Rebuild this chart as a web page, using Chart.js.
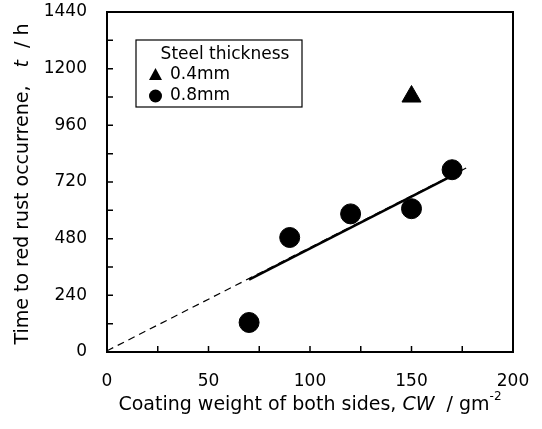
<!DOCTYPE html>
<html>
<head>
<meta charset="utf-8">
<script src="https://cdn.jsdelivr.net/npm/chart.js@4/dist/chart.umd.min.js"></script>
<style>
  html, body { margin: 0; padding: 0; background: #fff; }
  #wrap { width: 542px; height: 429px; }
</style>
</head>
<body>
<div id="wrap"><canvas id="rustChart" width="542" height="429"></canvas></div>
<script>
// data
const cw08 = [70, 90, 120, 150, 170];
const time08 = [125, 485, 585, 607, 772];
const cw04 = [150];
const time04 = [1082];
const fitDashX = [0, 179];
const fitDashY = [5, 788];
const fitSolidX = [70, 168];
const fitSolidY = [307, 737];
const xTickLabels = [0, 50, 100, 150, 200];
const yTickLabels = [0, 240, 480, 720, 960, 1200, 1440];
const legendTitle = "Steel thickness";
const legendNames = ["0.4mm", "0.8mm"];

const FONT = "'DejaVu Sans', Verdana, sans-serif";

function toPoints(xs, ys) {
    return xs.map((x, i) => ({ x: x, y: ys[i] }));
}

// mixed-style text helper: parts = [[text, style, sizeScale, yShift]]
function drawParts(ctx, parts, x, y, size) {
    let total = 0;
    parts.forEach((p) => {
        ctx.font = (p[1] || "") + " " + Math.round(size * (p[2] || 1)) + "px " + FONT;
        total += ctx.measureText(p[0]).width;
    });
    let cx = x - total / 2;
    parts.forEach((p) => {
        ctx.font = (p[1] || "") + " " + Math.round(size * (p[2] || 1)) + "px " + FONT;
        ctx.fillText(p[0], cx, y + (p[3] || 0));
        cx += ctx.measureText(p[0]).width;
    });
}

const extras = {
    id: "extras",
    afterDraw(chart) {
        const ctx = chart.ctx;
        const a = chart.chartArea;
        const xs = chart.scales.x;
        const ys = chart.scales.y;
        ctx.save();
        ctx.strokeStyle = "#000";
        ctx.fillStyle = "#000";

        // frame
        ctx.lineWidth = 2;
        ctx.strokeRect(a.left, a.top, a.right - a.left, a.bottom - a.top);

        // inward ticks
        ctx.lineWidth = 1.5;
        ctx.beginPath();
        for (let v = 25; v < 200; v += 25) {
            const px = xs.getPixelForValue(v);
            ctx.moveTo(px, a.bottom);
            ctx.lineTo(px, a.bottom - 6);
        }
        for (let v = 120; v < 1440; v += 120) {
            const py = ys.getPixelForValue(v);
            ctx.moveTo(a.left, py);
            ctx.lineTo(a.left + 6, py);
        }
        ctx.stroke();

        // axis titles
        ctx.textBaseline = "middle";
        ctx.textAlign = "left";
        drawParts(ctx, [
            ["Coating weight of both sides, ", ""],
            ["CW", "italic"],
            ["  / gm", ""],
            ["-2", "", 0.65, -8]
        ], 310, 405, 19);

        ctx.save();
        ctx.translate(23, 184);
        ctx.rotate(-Math.PI / 2);
        drawParts(ctx, [
            ["Time to red rust occurrene,   ", ""],
            ["t", "italic"],
            ["  / h", ""]
        ], 0, 0, 19);
        ctx.restore();

        // legend box
        const bx = 136, by = 40, bw = 166, bh = 67;
        ctx.lineWidth = 1.2;
        ctx.strokeRect(bx, by, bw, bh);
        ctx.font = "17px " + FONT;
        ctx.textAlign = "center";
        ctx.fillText(legendTitle, bx + 89, by + 15);
        ctx.textAlign = "left";
        // triangle marker
        ctx.beginPath();
        ctx.moveTo(155.5, 68);
        ctx.lineTo(162, 80);
        ctx.lineTo(149, 80);
        ctx.closePath();
        ctx.fill();
        ctx.fillText(legendNames[0], 170, 75);
        // circle marker
        ctx.beginPath();
        ctx.arc(155.5, 96, 6.5, 0, Math.PI * 2);
        ctx.fill();
        ctx.fillText(legendNames[1], 170, 96);
        ctx.restore();
    }
};

new Chart(document.getElementById("rustChart").getContext("2d"), {
    type: "scatter",
    data: {
        datasets: [
            {
                label: "fit (dashed)",
                data: toPoints(fitDashX, fitDashY),
                showLine: true,
                borderColor: "#000",
                borderWidth: 1.2,
                borderDash: [7, 5],
                pointRadius: 0,
                fill: false,
            },
            {
                label: "fit (solid)",
                data: toPoints(fitSolidX, fitSolidY),
                showLine: true,
                borderColor: "#000",
                borderWidth: 2.5,
                pointRadius: 0,
                fill: false,
            },
            {
                label: legendNames[1],
                data: toPoints(cw08, time08),
                pointStyle: "circle",
                pointRadius: 10,
                backgroundColor: "#000",
                borderColor: "#000",
            },
            {
                label: legendNames[0],
                data: toPoints(cw04, time04),
                pointStyle: "triangle",
                pointRadius: 11,
                backgroundColor: "#000",
                borderColor: "#000",
            },
        ],
    },
    options: {
        responsive: false,
        animation: false,
        layout: { padding: { top: 12, right: 29, left: 0, bottom: 0 } },
        plugins: {
            legend: { display: false },
            tooltip: { enabled: false },
        },
        scales: {
            x: {
                type: "linear",
                min: 0,
                max: 200,
                afterFit(scale) {
                    scale.height = 77;
                    scale.paddingLeft = 0;
                    scale.paddingRight = 0;
                },
                afterBuildTicks(scale) {
                    scale.ticks = xTickLabels.map((v) => ({ value: v }));
                },
                ticks: {
                    color: "#000",
                    font: { family: FONT, size: 17 },
                    padding: 19,
                    maxRotation: 0,
                    callback: (v) => String(v),
                },
                grid: { display: false, drawTicks: false },
                border: { display: true, color: "#000", width: 2 },
            },
            y: {
                type: "linear",
                min: 0,
                max: 1440,
                afterFit(scale) {
                    scale.width = 107;
                    scale.paddingTop = 0;
                    scale.paddingBottom = 0;
                },
                afterBuildTicks(scale) {
                    scale.ticks = yTickLabels.map((v) => ({ value: v }));
                },
                ticks: {
                    color: "#000",
                    font: { family: FONT, size: 17 },
                    padding: 20,
                    callback: (v) => String(v),
                },
                grid: { display: false, drawTicks: false },
                border: { display: true, color: "#000", width: 2 },
            },
        },
    },
    plugins: [extras],
});
</script>
</body>
</html>
